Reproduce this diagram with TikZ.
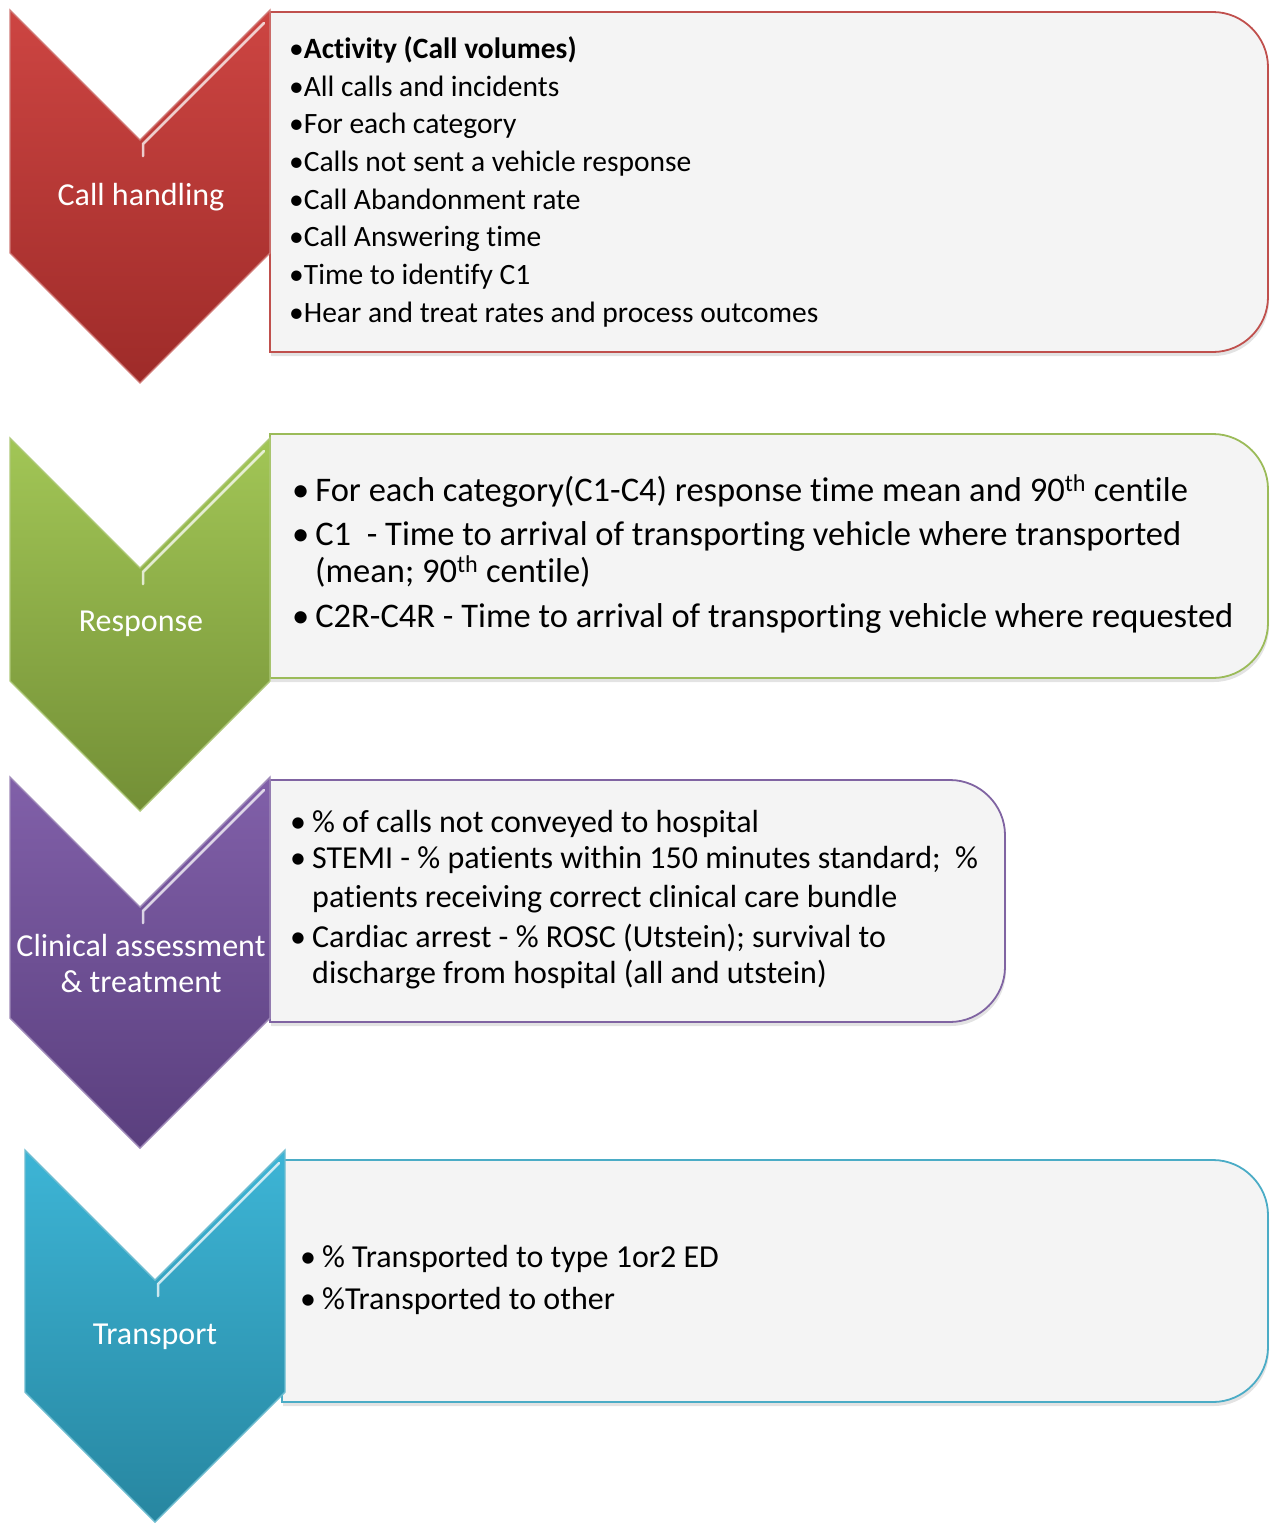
\documentclass[tikz,border=0pt]{standalone}
\usepackage{fontspec}
\setmainfont{Carlito}[Ligatures=NoCommon]
\usetikzlibrary{shadows}

\definecolor{redline}{HTML}{C0504D}
\definecolor{redtop}{HTML}{CD4542}
\definecolor{redbot}{HTML}{9E2B29}
\definecolor{greenline}{HTML}{9BBB59}
\definecolor{greentop}{HTML}{A2C656}
\definecolor{greenbot}{HTML}{738F36}
\definecolor{purpleline}{HTML}{8064A2}
\definecolor{purpletop}{HTML}{8160A9}
\definecolor{purplebot}{HTML}{5A3F7E}
\definecolor{aqualine}{HTML}{4BACC6}
\definecolor{aquatop}{HTML}{3DB5D6}
\definecolor{aquabot}{HTML}{2786A0}
\definecolor{panel}{HTML}{F4F4F4}

\tikzset{
  panelbox/.style={fill=panel, draw=#1, line width=1.8pt,
    drop shadow={shadow xshift=1pt, shadow yshift=-4pt, opacity=0.22}},
  chevron/.style={line width=1.4pt, line join=miter},
  gleam/.style={draw=white, line width=2.5pt, opacity=0.75, line cap=round},
  steplabel/.style={text=white, align=center, font=\fontsize{32}{36}\selectfont},
  itemline/.style={anchor=base west, inner sep=0pt, font=\fontsize{29.5}{34}\selectfont},
  bigline/.style={anchor=base west, inner sep=0pt, font=\fontsize{34.5}{40}\selectfont},
  midline/.style={anchor=base west, inner sep=0pt, font=\fontsize{32}{36}\selectfont},
}

\begin{document}
\begin{tikzpicture}[x=1pt,y=-1pt]
\useasboundingbox (0,0) rectangle (1272,1523);

% ---------- panels ----------
\path[panelbox=redline] (270,12) -- (1213,12) .. controls (1243,12) and (1268,37) .. (1268,67)
  -- (1268,297) .. controls (1268,327) and (1243,352) .. (1213,352) -- (270,352) -- cycle;
\path[panelbox=greenline] (270,434) -- (1213,434) .. controls (1243,434) and (1268,459) .. (1268,489)
  -- (1268,623) .. controls (1268,653) and (1243,678) .. (1213,678) -- (270,678) -- cycle;
\path[panelbox=purpleline] (270,780) -- (950,780) .. controls (980,780) and (1005,805) .. (1005,835)
  -- (1005,967) .. controls (1005,997) and (980,1022) .. (950,1022) -- (270,1022) -- cycle;
\path[panelbox=aqualine] (282,1160) -- (1213,1160) .. controls (1243,1160) and (1268,1185) .. (1268,1215)
  -- (1268,1347) .. controls (1268,1377) and (1243,1402) .. (1213,1402) -- (282,1402) -- cycle;

% ---------- chevrons ----------
\shade[chevron, draw=redline!75!white, top color=redtop, bottom color=redbot]
  (10,10) -- (140,140) -- (270,10) -- (270,253) -- (140,383) -- (10,253) -- cycle;
\draw[gleam] (143,156) -- (143,144) -- (264,23);
\shade[chevron, draw=greenline!80!white, top color=greentop, bottom color=greenbot]
  (10,438) -- (140,568) -- (270,438) -- (270,681) -- (140,811) -- (10,681) -- cycle;
\draw[gleam] (143,584) -- (143,572) -- (264,451);
\shade[chevron, draw=purpleline!75!white, top color=purpletop, bottom color=purplebot]
  (10,777) -- (140,907) -- (270,777) -- (270,1018) -- (140,1148) -- (10,1018) -- cycle;
\draw[gleam] (143,923) -- (143,911) -- (264,790);
\shade[chevron, draw=aqualine!80!white, top color=aquatop, bottom color=aquabot]
  (25,1150) -- (155,1280) -- (285,1150) -- (285,1392) -- (155,1522) -- (25,1392) -- cycle;
\draw[gleam] (158,1296) -- (158,1284) -- (279,1163);

% ---------- chevron labels ----------
\node[steplabel] (lab1) at (141,197) {Call handling};
\node[steplabel] (lab2) at (141,624) {Response};
\node[steplabel] (lab3) at (141,963) {Clinical assessment\\\& treatment};
\node[steplabel] (lab4) at (155,1337) {Transport};

% ---------- call handling items ----------
\foreach \yy/\txt [count=\i] in {58/{\textbf{Activity (Call volumes)}},
    96/{All calls and incidents},
    133/{For each category},
    171/{Calls not sent a vehicle response},
    209/{Call Abandonment rate},
    246/{Call Answering time},
    284/{Time to identify C1},
    322/{Hear and treat rates and process outcomes}}{
  \node[itemline] (ch\i) at (289,\yy) {\textbullet\txt};
}

% ---------- response items ----------
\node[bigline] (rs1) at (292,501) {\textbullet\hspace{6pt}For each category(C1-C4) response time mean and 90\textsuperscript{th} centile};
\node[bigline] (rs2) at (292,545) {\textbullet\hspace{6pt}C1\ \ - Time to arrival of transporting vehicle where transported};
\node[bigline] (rs3) at (315,582) {(mean; 90\textsuperscript{th} centile)};
\node[bigline] (rs4) at (292,627) {\textbullet\hspace{6pt}C2R-C4R - Time to arrival of transporting vehicle where requested};

% ---------- clinical items ----------
\node[midline] (cl1) at (290,832) {\textbullet\hspace{6pt}\% of calls not conveyed to hospital};
\node[midline] (cl2) at (290,868) {\textbullet\hspace{6pt}STEMI - \% patients within 150 minutes standard;\ \ \%};
\node[midline] (cl3) at (312,907) {patients receiving correct clinical care bundle};
\node[midline] (cl4) at (290,947) {\textbullet\hspace{6pt}Cardiac arrest - \% ROSC (Utstein); survival to};
\node[midline] (cl5) at (312,983) {discharge from hospital (all and utstein)};

% ---------- transport items ----------
\node[midline] (tr1) at (300,1267) {\textbullet\hspace{6pt}\% Transported to type 1or2 ED};
\node[midline] (tr2) at (300,1309) {\textbullet\hspace{6pt}\%Transported to other};
\end{tikzpicture}
\end{document}
